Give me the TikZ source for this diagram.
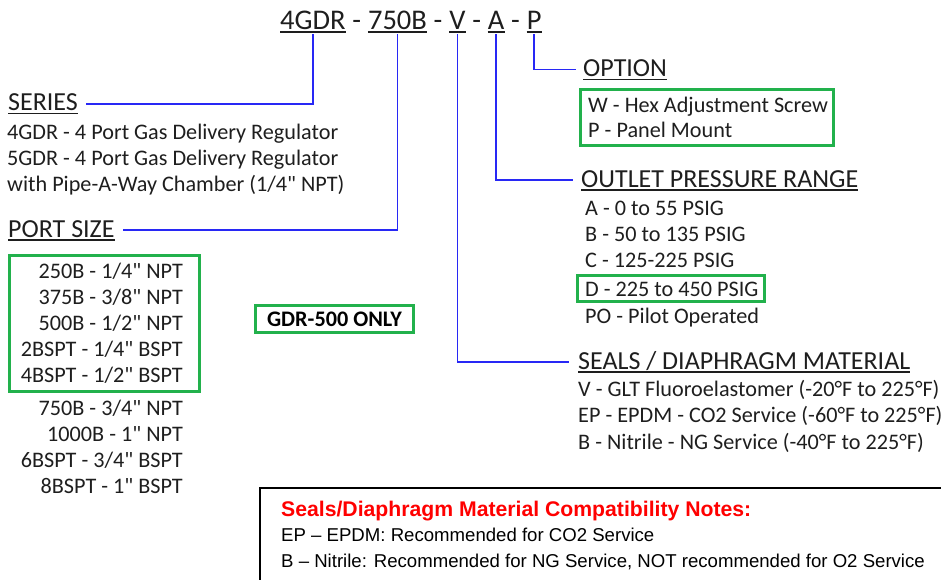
\documentclass[tikz,border=0pt]{standalone}
\usepackage{fontspec}
\newfontfamily\calib{Carlito}
\newfontfamily\notefont{Liberation Sans}
\usetikzlibrary{positioning}
\definecolor{linkblue}{RGB}{40,40,245}
\definecolor{boxgreen}{RGB}{34,177,76}
\definecolor{notered}{RGB}{255,0,0}
\definecolor{inkgray}{RGB}{30,30,30}

\begin{document}
\begin{tikzpicture}[
    x=1pt, y=-1pt,
    code/.style={anchor=base west, inner sep=0pt, text=inkgray, font=\calib\fontsize{28.5}{34}\selectfont},
    head/.style={anchor=base west, inner sep=0pt, text=inkgray, font=\calib\fontsize{26}{30}\selectfont},
    body/.style={anchor=base west, inner sep=0pt, text=inkgray, font=\calib\fontsize{22.2}{26}\selectfont},
    portline/.style={body, anchor=base east},
    note/.style={anchor=base west, inner sep=0pt, font=\notefont\fontsize{18.6}{22}\selectfont},
    uline/.style={line width=1.5pt, inkgray},
    conn/.style={line width=1.7pt, linkblue},
    gbox/.style={draw=boxgreen, line width=2.7pt},
  ]
  \useasboundingbox (0,0) rectangle (941,579);

  % part number
  \node[code] (ser) at (280,29.3) {4GDR};
  \node[code, base right=0pt of ser]  (d1)   {\ -\ \mbox{}};
  \node[code, base right=0pt of d1]   (port) {750B};
  \node[code, base right=0pt of port] (d2)   {\ -\ \mbox{}};
  \node[code, base right=0pt of d2]   (seal) {V};
  \node[code, base right=0pt of seal] (d3)   {\ -\ \mbox{}};
  \node[code, base right=0pt of d3]   (rng)  {A};
  \node[code, base right=0pt of rng]  (d4)   {\ -\ \mbox{}};
  \node[code, base right=0pt of d4]   (opt)  {P};

  % headings
  \node[head] (series)   at (8,110.7)   {SERIES};
  \node[head] (portsize) at (8,237)     {PORT SIZE};
  \node[head] (option)   at (583,76.5)  {OPTION};
  \node[head] (outlet)   at (581,187.2) {OUTLET PRESSURE RANGE};
  \node[head] (seals)    at (578,369.3) {SEALS / DIAPHRAGM MATERIAL};

  \foreach \n in {ser,port,seal,rng,opt,series,portsize,option,outlet,seals}
    \draw[uline] ([yshift=-2.8pt]\n.base west) -- ([yshift=-2.8pt]\n.base east);

  % connectors
  \draw[conn] ([yshift=-5pt]ser.base)  |- ([xshift=8pt,yshift=7pt]series.base east);
  \draw[conn] ([yshift=-5pt]port.base) |- ([xshift=8pt,yshift=7pt]portsize.base east);
  \draw[conn] ([yshift=-5pt]seal.base) |- ([xshift=-9pt,yshift=7pt]seals.base west);
  \draw[conn] ([yshift=-5pt]rng.base)  |- ([xshift=-8pt,yshift=7pt]outlet.base west);
  \draw[conn] ([yshift=-5pt]opt.base)  |- ([xshift=-7pt,yshift=7pt]option.base west);

  % series
  \foreach \t [count=\i] in {{4GDR - 4 Port Gas Delivery Regulator},
      {5GDR - 4 Port Gas Delivery Regulator},
      {with Pipe-A-Way Chamber (1/4" NPT)}}
    \node[body] (series\i) at (7,113.3+26*\i) {\t};

  % port sizes
  \draw[gbox] (9.5,255.5) rectangle (199.2,391.2);
  \foreach \t [count=\i] in {{250B - 1/4" NPT}, {375B - 3/8" NPT}, {500B - 1/2" NPT},
      {2BSPT - 1/4" BSPT}, {4BSPT - 1/2" BSPT}}
    \node[portline] (psize\i) at (183,252.6+26*\i) {\t};
  \foreach \t [count=\i] in {{750B - 3/4" NPT}, {1000B - 1" NPT},
      {6BSPT - 3/4" BSPT}, {8BSPT - 1" BSPT}}
    \node[portline] (pmore\i) at (183,389.8+26*\i) {\t};

  \node[gbox, minimum width=158pt, minimum height=27pt, text=black,
        font=\calib\fontsize{22.2}{26}\selectfont\bfseries] (gdr) at (334.5,319) {GDR-500 ONLY};

  % options
  \draw[gbox] (580.5,89.5) rectangle (833.5,145.5);
  \node[body] (optW) at (588,112.8) {W - Hex Adjustment Screw};
  \node[body] (optP) at (588,137.8) {P - Panel Mount};

  % outlet pressure
  \draw[gbox] (577.5,275.5) rectangle (764.5,301.5);
  \node[body] (rngA)  at (585,215.5) {A - 0 to 55 PSIG};
  \node[body] (rngB)  at (585,241.5) {B - 50 to 135 PSIG};
  \node[body] (rngC)  at (585,267.3) {C - 125-225 PSIG};
  \node[body] (rngD)  at (585,296.5) {D - 225 to 450 PSIG};
  \node[body] (rngPO) at (585,323.5) {PO - Pilot Operated};

  % seals
  \foreach \t [count=\i] in {{V - GLT Fluoroelastomer (-20°F to 225°F)},
      {EP - EPDM - CO2 Service (-60°F to 225°F)},
      {B - Nitrile - NG Service (-40°F to 225°F)}}
    \node[body] (seals\i) at (578,369.8+26.4*\i) {\t};

  % notes
  \draw[line width=2pt] (259.5,488) rectangle (960,600);
  \node[note, text=notered, font=\notefont\fontsize{21.2}{25}\selectfont\bfseries] (ntitle)
    at (281,516.7) {Seals/Diaphragm Material Compatibility Notes:};
  \node[note] (nep) at (281,541.7) {EP – EPDM: Recommended for CO2 Service};
  \node[note] (nb)  at (281,567.7) {B – Nitrile: Recommended for NG Service, NOT recommended for O2 Service};
\end{tikzpicture}
\end{document}
